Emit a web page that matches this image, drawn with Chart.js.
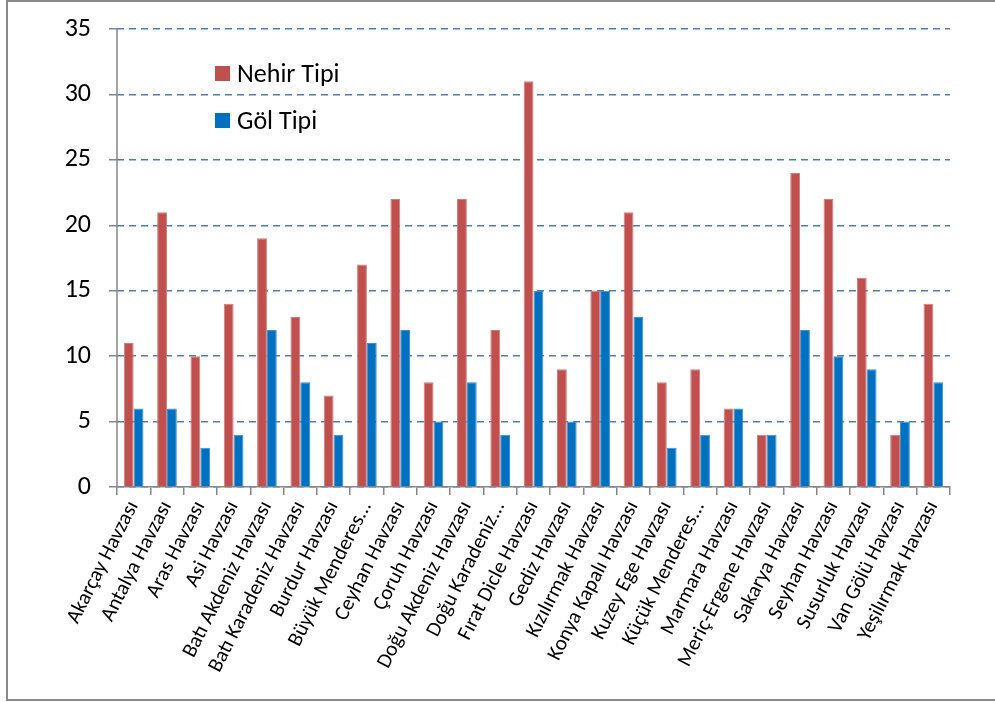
<!DOCTYPE html>
<html>
<head>
<meta charset="utf-8">
<script src="https://cdn.jsdelivr.net/npm/chart.js@4.4.1/dist/chart.umd.min.js"></script>
<style>
  html, body { margin: 0; padding: 0; background: #fff; }
  #wrap { position: relative; width: 995px; height: 702px; overflow: hidden; }
  #frame { position: absolute; left: 6px; top: 0; width: 1100px; height: 697px;
           border: 2px solid #8a8a8a; border-right: none; box-sizing: content-box; }
  canvas { position: absolute; left: 0; top: 0; }
  .leg { position: absolute; left: 215px; height: 26px; font-family: Carlito, Lato, sans-serif;
         font-size: 26px; color: #000; display: flex; align-items: center; line-height: 1; }
  .leg span.sw { display: inline-block; width: 15px; height: 15px; margin-right: 7px; }
</style>
</head>
<body>
<div id="wrap">
  <div id="frame"></div>
  <canvas id="c" width="995" height="702"></canvas>
  <div class="leg" style="top:60px"><span class="sw" style="background:#C0504D"></span>Nehir Tipi</div>
  <div class="leg" style="top:107px"><span class="sw" style="background:#0070C0"></span>Göl Tipi</div>
</div>
<script>
// Havza adları (kategori ekseni)
const basins = [
  "Akarçay Havzası", "Antalya Havzası", "Aras Havzası", "Asi Havzası",
  "Batı Akdeniz Havzası", "Batı Karadeniz Havzası", "Burdur Havzası",
  "Büyük Menderes...", "Ceyhan Havzası", "Çoruh Havzası",
  "Doğu Akdeniz Havzası", "Doğu Karadeniz...", "Fırat Dicle Havzası",
  "Gediz Havzası", "Kızılırmak Havzası", "Konya Kapalı Havzası",
  "Kuzey Ege Havzası", "Küçük Menderes...", "Marmara Havzası",
  "Meriç-Ergene Havzası", "Sakarya Havzası", "Seyhan Havzası",
  "Susurluk Havzası", "Van Gölü Havzası", "Yeşilırmak Havzası"
];
// Nehir tipi su kütlesi sayıları
const nehirTipi = [11, 21, 10, 14, 19, 13, 7, 17, 22, 8, 22, 12, 31, 9, 15, 21, 8, 9, 6, 4, 24, 22, 16, 4, 14];
// Göl tipi su kütlesi sayıları
const golTipi = [6, 6, 3, 4, 12, 8, 4, 11, 12, 5, 8, 4, 15, 5, 15, 13, 3, 4, 6, 4, 12, 10, 9, 5, 8];
// Y ekseni aralığı
const yMin = 0, yMax = 35, yStep = 5;

const FONT = "Carlito, Lato, sans-serif";
const GRAY = "#868686";

// y ekseni çizgisini düz olarak çizer (ızgara çizgileri kesikli kalır)
const yAxisLine = {
  id: "yAxisLine",
  afterDatasetsDraw(chart) {
    const { ctx, chartArea } = chart;
    ctx.save();
    ctx.strokeStyle = GRAY;
    ctx.lineWidth = 1.5;
    ctx.beginPath();
    ctx.moveTo(chartArea.left, chartArea.top);
    ctx.lineTo(chartArea.left, chartArea.bottom);
    ctx.stroke();
    ctx.restore();
  }
};

new Chart(document.getElementById("c"), {
  type: "bar",
  data: {
    labels: basins,
    datasets: [
      { label: "Nehir Tipi", data: nehirTipi, backgroundColor: "#C0504D",
        borderColor: "#D27C7A", borderWidth: 1, barPercentage: 1.0, categoryPercentage: 0.59 },
      { label: "Göl Tipi", data: golTipi, backgroundColor: "#0070C0",
        borderColor: "#3C8FD0", borderWidth: 1, barPercentage: 1.0, categoryPercentage: 0.59 }
    ]
  },
  options: {
    responsive: false,
    animation: false,
    devicePixelRatio: 1,
    layout: { padding: { top: 29, right: 45, left: 0, bottom: 0 } },
    plugins: { legend: { display: false }, tooltip: { enabled: false } },
    scales: {
      x: {
        offset: true,
        grid: { display: true, drawOnChartArea: false, drawTicks: true, tickLength: 8,
                color: GRAY, lineWidth: 1.5, offset: true },
        border: { display: true, color: GRAY, width: 1.5 },
        ticks: { autoSkip: false, maxRotation: 63, minRotation: 63, padding: 2,
                 color: "#000", font: { family: FONT, size: 21 } },
        afterFit(scale) { scale.height = 702 - 487; scale.paddingLeft = 0; scale.paddingRight = 0; }
      },
      y: {
        min: yMin, max: yMax,
        ticks: { stepSize: yStep, padding: 18, color: "#000", font: { family: FONT, size: 26 } },
        grid: { color: "#4A7EBB", lineWidth: 1.5, tickLength: 8, tickColor: GRAY,
                tickWidth: 1.5, tickBorderDash: [] },
        border: { display: false, dash: [7, 5] },
        afterFit(scale) { scale.width = 117; scale.paddingTop = 0; scale.paddingBottom = 0; }
      }
    }
  },
  plugins: [yAxisLine]
});
</script>
</body>
</html>
